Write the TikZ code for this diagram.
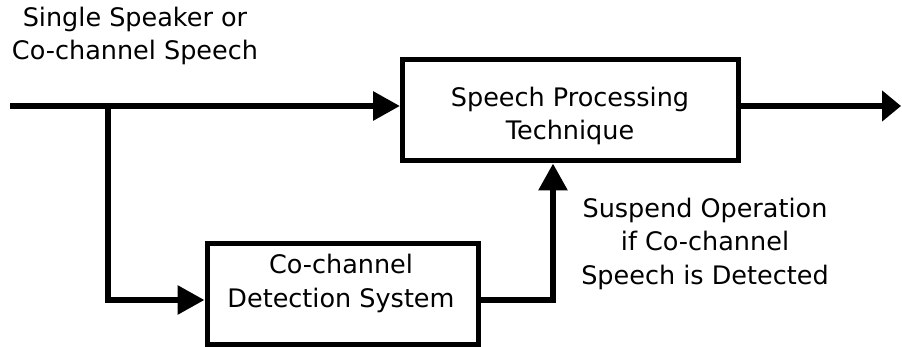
\documentclass[tikz,border=0pt]{standalone}
\usepackage{fontspec}
\setmainfont{DejaVu Sans}
\usetikzlibrary{arrows.meta}
\begin{document}
\begin{tikzpicture}[x=1pt,y=-1pt,
  blockbox/.style={draw=black, line width=5pt, minimum width=#1, inner sep=0pt},
  caption/.style={align=center, font=\fontsize{25.5}{33.5}\selectfont, inner sep=0pt},
  signal/.style={line width=6pt, line join=miter, -{Triangle[length=27pt,width=28pt]}},
  outsignal/.style={line width=6pt, -{Triangle[length=19pt,width=30pt]}}]
  \useasboundingbox (0,0) rectangle (902,347);

  % processing blocks
  \node[blockbox=336pt, minimum height=101.5pt] (proc) at (570.5,110.25) {};
  \node[caption] (proctext) at (570,116) {Speech Processing\\Technique};
  \node[blockbox=271pt, minimum height=100pt] (det) at (342.5,294) {};
  \node[caption] (dettext) at (341,283.5) {Co-channel\\Detection System};

  % signal labels
  \node[caption] (inlabel) at (135,36) {Single Speaker or\\Co-channel Speech};
  \node[caption] (suslabel) at (705,243.5) {Suspend Operation\\if Co-channel\\Speech is Detected};

  % connection points
  \coordinate (in) at (10,106);
  \coordinate (split) at (108,106);
  \coordinate (down) at (108,300);
  \coordinate (bend) at (553,300);
  \coordinate (out) at (901,106);

  % connectors
  \draw[signal] (in) -- (in -| proc.west);
  \draw[signal] (split) -- (down) -- (down -| det.west);
  \draw[outsignal] (proc.east |- out) -- (out);
  \draw[signal] (bend -| det.east) -- (bend) -- (bend |- proc.south);
\end{tikzpicture}
\end{document}
